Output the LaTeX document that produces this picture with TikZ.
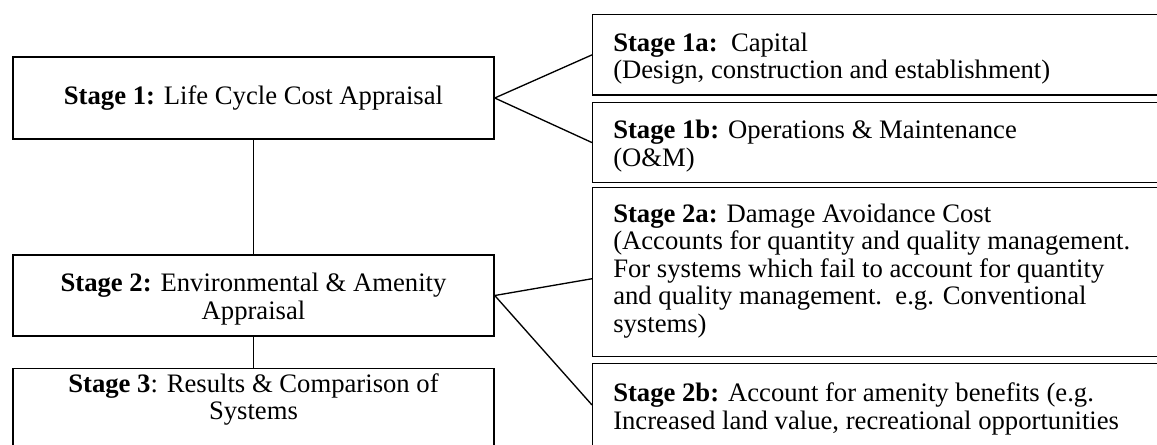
\documentclass[tikz,border=0pt]{standalone}
\usepackage{fontspec}
\setmainfont{Liberation Serif}
\usetikzlibrary{calc}
\begin{document}
\begin{tikzpicture}[x=0.75pt,y=-0.75pt,
  every node/.style={font=\fontsize{20}{20.7}\selectfont},
  stagebox/.style={draw, line width=1.1pt, inner sep=0pt, minimum width=360.75pt, align=center},
  subbox/.style={draw, line width=1.1pt, inner sep=0pt, anchor=north west, minimum width=433.5pt},
  link/.style={line width=1pt},
  sublabel/.style={anchor=base west, inner sep=0pt}
]
\clip (0,0) rectangle (1157,444);

% main stages (left column)
\node[stagebox, minimum height=61.5pt] (s1) at (253.5,98)
  {\textbf{Stage 1:} Life Cycle Cost Appraisal};
\node[stagebox, minimum height=60.75pt] (s2) at (253.5,295.5)
  {\rule{0pt}{19pt}\textbf{Stage 2:} Environmental \& Amenity\\Appraisal};
\node[stagebox, minimum height=66pt, anchor=north] (s3) at (253.5,368) {};
\node[anchor=base, inner sep=0pt] (t3) at ($(s3.north)+(0,24)$)
  {\parbox[t]{340pt}{\centering\textbf{Stage 3}: Results \& Comparison of\\Systems}};

% sub-stages (right column)
\node[subbox, minimum height=60.2pt]  (s1a) at (592,14) {};
\node[subbox, minimum height=60.2pt]  (s1b) at (592,101.7) {};
\node[subbox, minimum height=126.75pt] (s2a) at (592,187) {};
\node[subbox, minimum height=62.6pt]  (s2b) at (592,362.5) {};

\node[sublabel] (t1a) at ($(s1a.north west)+(21,37)$)
  {\parbox[t]{520pt}{\textbf{Stage 1a:}\ \ Capital\\(Design, construction and establishment)}};
\node[sublabel] (t1b) at ($(s1b.north west)+(21,37)$)
  {\parbox[t]{520pt}{\textbf{Stage 1b:} Operations \& Maintenance\\(O\&M)}};
\node[sublabel] (t2a) at ($(s2a.north west)+(21,35)$)
  {\parbox[t]{520pt}{\textbf{Stage 2a:} Damage Avoidance Cost\\
   (Accounts for quantity and quality management.\\
   For systems which fail to account for quantity\\
   and quality management.\ \ e.g. Conventional\\
   systems)}};
\node[sublabel] (t2b) at ($(s2b.north west)+(21,39)$)
  {\parbox[t]{520pt}{\textbf{Stage 2b:} Account for amenity benefits (e.g.\\
   Increased land value, recreational opportunities}};

% connectors
\draw[link] (s1.south) -- (s2.north);
\draw[link] (s2.south) -- (s3.north);
\draw[link] (s1.east) -- (s1a.west);
\draw[link] (s1.east) -- (s1b.west);
\draw[link] (s2.east) -- ($(s2a.west)+(0,6.5)$);
\draw[link] (s2.east) -- (s2b.west);
\end{tikzpicture}
\end{document}
